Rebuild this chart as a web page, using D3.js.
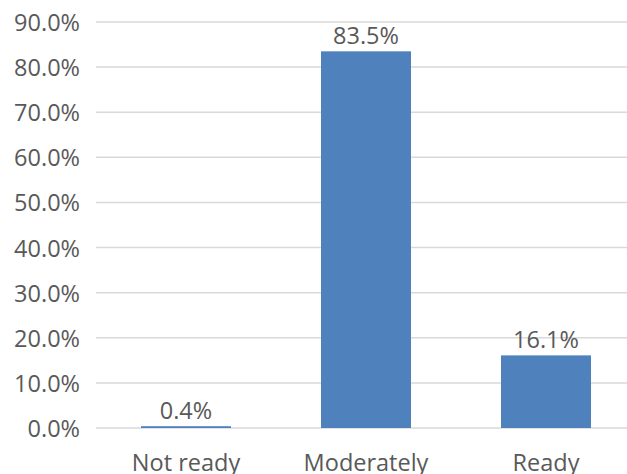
<!DOCTYPE html>
<html>
<head>
<meta charset="utf-8">
<script src="https://cdn.jsdelivr.net/npm/d3@7"></script>
<style>
  html, body { margin: 0; padding: 0; background: #fff; }
  svg text { font-family: "Open Sans", "Noto Sans", sans-serif; fill: #595959; }
</style>
</head>
<body>
<svg id="chart" width="627" height="474"></svg>
<script>
// Readiness levels and the share of respondents in each
const categories = ["Not ready", "Moderately", "Ready"];
const shares = [0.4, 83.5, 16.1];
const yTicks = [0, 10, 20, 30, 40, 50, 60, 70, 80, 90];

const svg = d3.select("#chart");
const plot = { left: 96, right: 636, top: 22, bottom: 428 };
const fontSize = "23.5px";

const x = d3.scaleBand()
  .domain(categories)
  .range([plot.left, plot.right])
  .paddingInner(0.5)
  .paddingOuter(0.25);

const y = d3.scaleLinear()
  .domain([0, 90])
  .range([plot.bottom, plot.top]);

// Horizontal gridlines
svg.append("g")
  .selectAll("line")
  .data(yTicks)
  .join("line")
  .attr("x1", plot.left)
  .attr("x2", 627)
  .attr("y1", d => y(d))
  .attr("y2", d => y(d))
  .attr("stroke", "#d9d9d9")
  .attr("stroke-width", 1.5);

// Y-axis labels
const yAxis = svg.append("g")
  .attr("transform", `translate(${plot.left - 16},0)`)
  .call(d3.axisLeft(y).tickValues(yTicks).tickSize(0).tickFormat(d => d.toFixed(1) + "%"));
yAxis.select(".domain").remove();
yAxis.selectAll("text")
  .attr("x", 0)
  .attr("dy", "0.36em")
  .style("font-size", fontSize);

// Bars
svg.append("g")
  .selectAll("rect")
  .data(shares)
  .join("rect")
  .attr("x", (d, i) => x(categories[i]))
  .attr("width", x.bandwidth())
  .attr("y", d => y(d))
  .attr("height", d => y(0) - y(d))
  .attr("fill", "#4f81bd");

// Value labels above bars
svg.append("g")
  .selectAll("text")
  .data(shares)
  .join("text")
  .attr("x", (d, i) => x(categories[i]) + x.bandwidth() / 2)
  .attr("y", d => y(d) - 7)
  .attr("text-anchor", "middle")
  .style("font-size", fontSize)
  .text(d => d.toFixed(1) + "%");

// Category labels
const xAxis = svg.append("g")
  .attr("transform", `translate(0,${plot.bottom})`)
  .call(d3.axisBottom(x).tickSize(0));
xAxis.select(".domain").remove();
xAxis.selectAll("text")
  .attr("y", 0)
  .attr("dy", "43px")
  .style("font-size", fontSize);
</script>
</body>
</html>
